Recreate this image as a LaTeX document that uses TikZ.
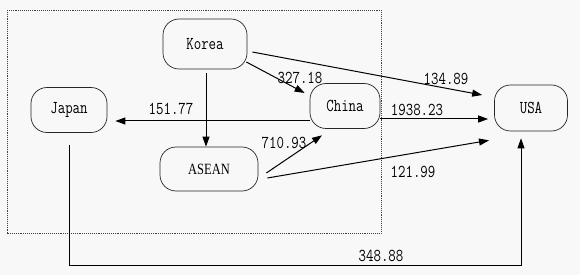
\documentclass[tikz,border=0pt]{standalone}
\usepackage{fontspec}
\newfontfamily\aseanfont{Liberation Serif}
\usetikzlibrary{arrows.meta,calc}
\definecolor{bgc}{RGB}{248,248,248}
\newcommand\tallt[1]{\scalebox{1}[1.25]{#1}}
\tikzset{
  box/.style={draw=black!85, line width=0.7pt, rounded corners=16pt, inner sep=0pt, font=\ttfamily\fontsize{14.5}{16}\selectfont},
  lbl/.style={font=\ttfamily\fontsize{14.5}{16}\selectfont, inner sep=0pt},
  arr/.style={line width=1pt, -{Triangle[length=10pt,width=7pt]}},
  thin arr/.style={line width=0.8pt, -{Triangle[length=10pt,width=7pt]}}
}
\begin{document}
\begin{tikzpicture}[x=1pt,y=-1pt]
\fill[bgc] (0,0) rectangle (580,275);
\useasboundingbox (0,0) rectangle (580,275);
\draw[black!75, densely dotted, line width=0.9pt] (7,10) rectangle (381,233);
\node[box, minimum width=84pt, minimum height=50pt] (Korea) at (205,44) {\tallt{Korea}};
\node[box, minimum width=76pt, minimum height=45pt] (Japan) at (69,110) {\tallt{Japan}};
\node[box, minimum width=70pt, minimum height=45pt] (China) at (345,106) {\tallt{China}};
\node[box, minimum width=73pt, minimum height=46pt] (USA) at (531,108) {\tallt{USA}};
\node[box, minimum width=98pt, minimum height=44pt, font=\aseanfont\fontsize{12.5}{14}\selectfont] (ASEAN) at (209,169) {\tallt{ASEAN}};
% arrows
\draw[arr] ($(Korea.south)+(1,4)$) -- ($(ASEAN.north)+(-3,0)$);
\draw[arr] ($(Korea.east)+(-1,18)$) -- ($(China.west)+(-5,-13)$);
\draw[arr] ($(Korea.east)+(5,8)$) -- ($(USA.west)+(-12,-13)$);
\draw[arr] ($(China.west)+(0,15)$) -- ($(Japan.east)+(8,11)$);
\draw[arr] ($(China.east)+(0,13)$) -- ($(USA.west)+(-6,11)$);
\draw[arr] ($(ASEAN.east)+(8,4)$) -- ($(China.south)+(-23,6.5)$);
\draw[arr] ($(ASEAN.east)+(9,9)$) -- ($(USA.south)+(-42,9)$);
\draw[thin arr] ($(Japan.south)+(0,12)$) |- ($(USA.south)+(-10,134)$) -- ($(USA.south)+(-10,7)$);
% labels
\node[lbl] (l1) at (171,109) {\tallt{151.77}};
\node[lbl] (l2) at (417,110) {\tallt{1938.23}};
\node[lbl] (l3) at (284,143) {\tallt{710.93}};
\node[lbl] (l4) at (413,172) {\tallt{121.99}};
\node[lbl] (l5) at (381,256) {\tallt{348.88}};
\node[lbl] (l6) at (446,79) {\tallt{134.89}};
\node[lbl] (l7) at (300,78) {\tallt{327.18}};
\end{tikzpicture}
\end{document}
